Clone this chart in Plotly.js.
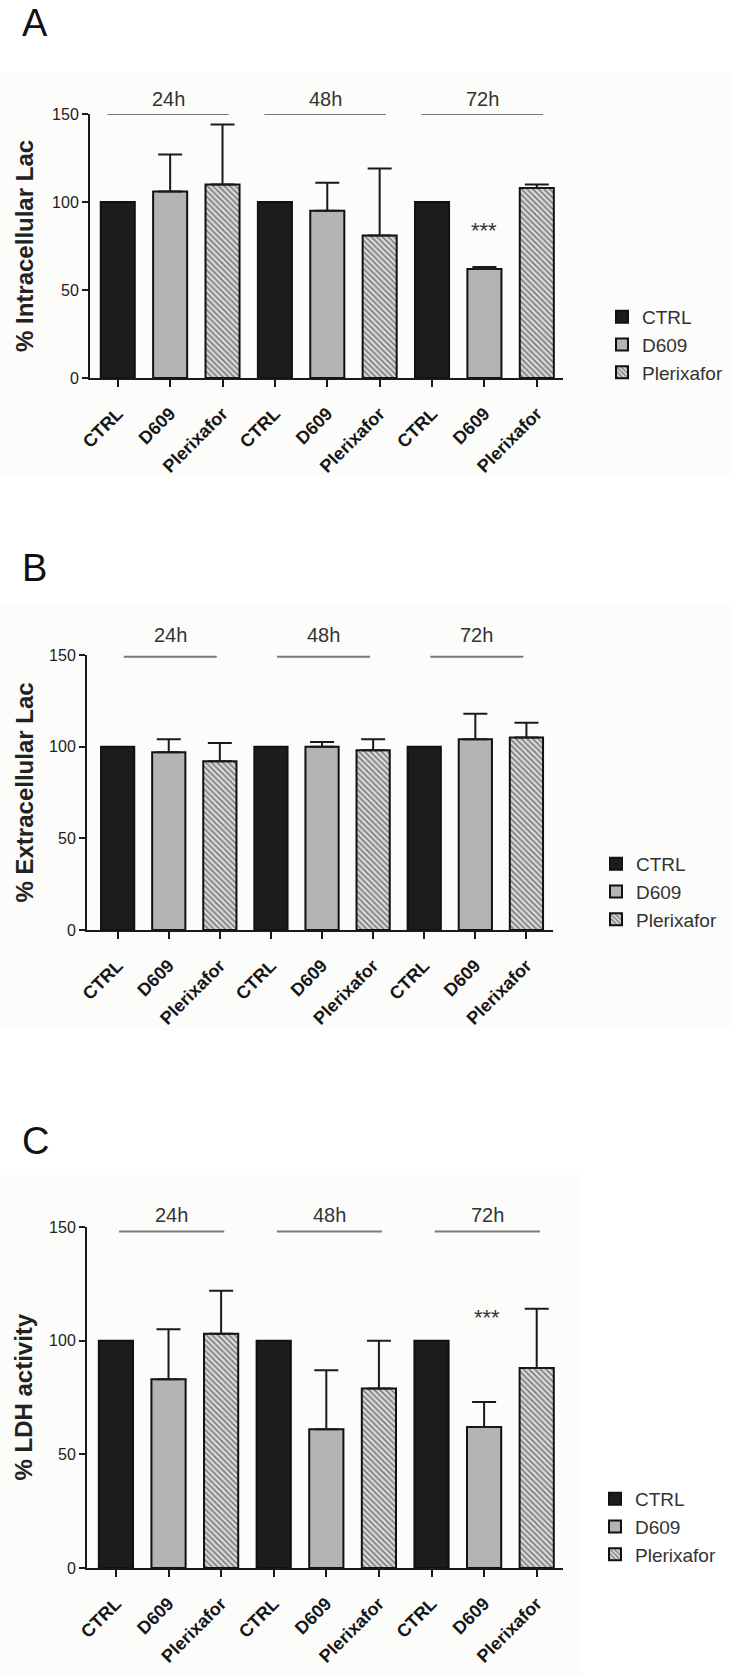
<!DOCTYPE html>
<html>
<head>
<meta charset="utf-8">
<script src="https://cdn.plot.ly/plotly-3.0.1.min.js"></script>
<style>
html,body{margin:0;padding:0;background:#fff;}
#chart{width:730px;height:1675px;}
</style>
</head>
<body>
<div id="chart"></div>
<script>
// ---------------- DATA ----------------
const treatments = ['CTRL', 'D609', 'Plerixafor'];
const timepoints = ['24h', '48h', '72h'];
const tickLabels = ['CTRL', 'D609', 'Plerixafor', 'CTRL', 'D609', 'Plerixafor', 'CTRL', 'D609', 'Plerixafor'];
const yTicks = [0, 50, 100, 150];

// Panel A: % Intracellular Lac
const intraCTRL = [100, 100, 100];
const intraD609 = [106, 95, 62];
const intraD609Err = [21, 16, 1];
const intraPlx = [110, 81, 108];
const intraPlxErr = [34, 38, 2];

// Panel B: % Extracellular Lac
const extraCTRL = [100, 100, 100];
const extraD609 = [97, 100, 104];
const extraD609Err = [7, 2.5, 14];
const extraPlx = [92, 98, 105];
const extraPlxErr = [10, 6, 8];

// Panel C: % LDH activity
const ldhCTRL = [100, 100, 100];
const ldhD609 = [83, 61, 62];
const ldhD609Err = [22, 26, 11];
const ldhPlx = [103, 79, 88];
const ldhPlxErr = [19, 21, 26];

const sigLabel = '***';

// ---------------- LAYOUT HELPERS ----------------
const W = 730, H = 1675;
const px = x => x / W;
const py = y => 1 - y / H;
const FONT = 'Arial, "Liberation Sans", Helvetica, sans-serif';

const panels = [
  {letter: 'A', title: '% Intracellular Lac', ctrl: intraCTRL, d609: intraD609, d609Err: intraD609Err, plx: intraPlx, plxErr: intraPlxErr,
   xL: 90, xR: 563, yTop: 114, yBot: 378, xr: [-0.53, 8.5], letterTop: 0, titleX: 24,
   lineY: 150, labelPix: 99, span: [-0.2, 2.12], sig: {x: 7, y: 84}, legX: 602, legY: 298, bgTop: 72},
  {letter: 'B', title: '% Extracellular Lac', ctrl: extraCTRL, d609: extraD609, d609Err: extraD609Err, plx: extraPlx, plxErr: extraPlxErr,
   xL: 87, xR: 553, yTop: 655, yBot: 930, xr: [-0.6, 8.52], letterTop: 545, titleX: 24,
   lineY: 149, labelPix: 635, span: [0.12, 1.94], sig: null, legX: 596, legY: 845, bgTop: 602},
  {letter: 'C', title: '% LDH activity', ctrl: ldhCTRL, d609: ldhD609, d609Err: ldhD609Err, plx: ldhPlx, plxErr: ldhPlxErr,
   xL: 87, xR: 563, yTop: 1227, yBot: 1568, xr: [-0.55, 8.5], letterTop: 1118, titleX: 23,
   lineY: 148, labelPix: 1215, span: [0.06, 2.06], sig: {x: 7.05, y: 110}, legX: 595, legY: 1480, bgTop: 1175}
];

const styles = {
  CTRL: {color: '#1c1c1c'},
  D609: {color: '#b4b4b4'},
  Plerixafor: {color: '#d4d4d4', pattern: {shape: '\\', bgcolor: '#d8d8d8', fgcolor: '#6e6e6e', size: 4, solidity: 0.35}}
};

const data = [];
const layout = {
  width: W, height: H,
  margin: {l: 0, r: 0, t: 0, b: 0},
  paper_bgcolor: '#ffffff',
  plot_bgcolor: 'rgba(0,0,0,0)',
  font: {family: FONT, color: '#222'},
  barmode: 'overlay',
  showlegend: true,
  annotations: [],
  shapes: []
};

panels.forEach((p, i) => {
  const n = i === 0 ? '' : String(i + 1);
  const xa = 'x' + n, ya = 'y' + n;
  const legendId = 'legend' + n;
  const series = [
    {name: treatments[0], y: p.ctrl, err: null},
    {name: treatments[1], y: p.d609, err: p.d609Err},
    {name: treatments[2], y: p.plx, err: p.plxErr}
  ];
  series.forEach((s, k) => {
    const st = styles[s.name];
    const trace = {
      type: 'bar',
      name: s.name,
      x: timepoints.map((t, ti) => ti * 3 + k),
      y: s.y,
      width: 0.65,
      xaxis: xa, yaxis: ya,
      legend: legendId,
      marker: {color: st.color, line: {color: '#111', width: 2}},
      hoverinfo: 'skip'
    };
    if (st.pattern) trace.marker.pattern = st.pattern;
    if (s.err) {
      trace.error_y = {type: 'data', symmetric: false, array: s.err, arrayminus: s.err.map(() => 0),
        color: '#1a1a1a', thickness: 2, width: 12};
    }
    data.push(trace);
  });

  layout['xaxis' + n] = {
    domain: [px(p.xL), px(p.xR)], anchor: ya, range: p.xr,
    showline: true, linecolor: '#1a1a1a', linewidth: 2,
    showgrid: false, zeroline: false,
    ticks: 'outside', ticklen: 7, tickwidth: 2, tickcolor: '#1a1a1a',
    tickmode: 'array', tickvals: tickLabels.map((_, j) => j), ticktext: tickLabels,
    tickangle: -45, ticklabelstandoff: 9,
    tickfont: {family: FONT, size: 18, weight: 'bold', color: '#151515'},
    fixedrange: true
  };
  layout['yaxis' + n] = {
    domain: [py(p.yBot), py(p.yTop)], anchor: xa, range: [0, 150],
    showline: true, linecolor: '#1a1a1a', linewidth: 2,
    showgrid: false, zeroline: false,
    ticks: 'outside', ticklen: 6, tickwidth: 2, tickcolor: '#1a1a1a',
    tickmode: 'array', tickvals: yTicks,
    tickfont: {family: FONT, size: 16, color: '#222'},
    fixedrange: true
  };
  layout[legendId] = {
    x: px(p.legX), xanchor: 'left', y: py(p.legY), yanchor: 'top',
    font: {family: FONT, size: 19, color: '#333'},
    bgcolor: 'rgba(0,0,0,0)', traceorder: 'normal', itemclick: false
  };

  // faint panel background
  layout.shapes.push({type: 'rect', xref: 'paper', yref: 'paper', layer: 'below',
    x0: 0, x1: i === 2 ? px(582) : 1, y0: py(p.yBot + (i === 2 ? 107 : 100)), y1: py(p.bgTop),
    fillcolor: '#fcfcfa', line: {width: 0}});

  // panel letter
  layout.annotations.push({xref: 'paper', yref: 'paper', x: px(20), y: py(p.letterTop),
    xanchor: 'left', yanchor: 'top', showarrow: false, text: p.letter,
    font: {family: FONT, size: 38, color: '#111'}});

  // y-axis title
  layout.annotations.push({xref: 'paper', yref: 'paper', x: px(p.titleX), y: py((p.yTop + p.yBot) / 2),
    xanchor: 'center', yanchor: 'middle', showarrow: false, textangle: -90, text: p.title,
    font: {family: FONT, size: 24, weight: 'bold', color: '#222'}});

  // group lines + labels
  timepoints.forEach((t, ti) => {
    const x0 = ti * 3 + p.span[0], x1 = ti * 3 + p.span[1];
    layout.shapes.push({type: 'line', xref: xa, yref: ya, x0: x0, x1: x1, y0: p.lineY, y1: p.lineY,
      line: {color: '#7a7a7a', width: 2}});
    layout.annotations.push({xref: xa, yref: 'paper', x: (x0 + x1) / 2, y: py(p.labelPix),
      xanchor: 'center', yanchor: 'middle', showarrow: false, text: t,
      font: {family: FONT, size: 20, color: '#333'}});
  });

  if (p.sig) {
    layout.annotations.push({xref: xa, yref: ya, x: p.sig.x, y: p.sig.y,
      xanchor: 'center', yanchor: 'middle', showarrow: false, text: sigLabel,
      font: {family: FONT, size: 22, color: '#333'}});
  }
});

Plotly.newPlot('chart', data, layout, {displayModeBar: false, staticPlot: true});
</script>
</body>
</html>
